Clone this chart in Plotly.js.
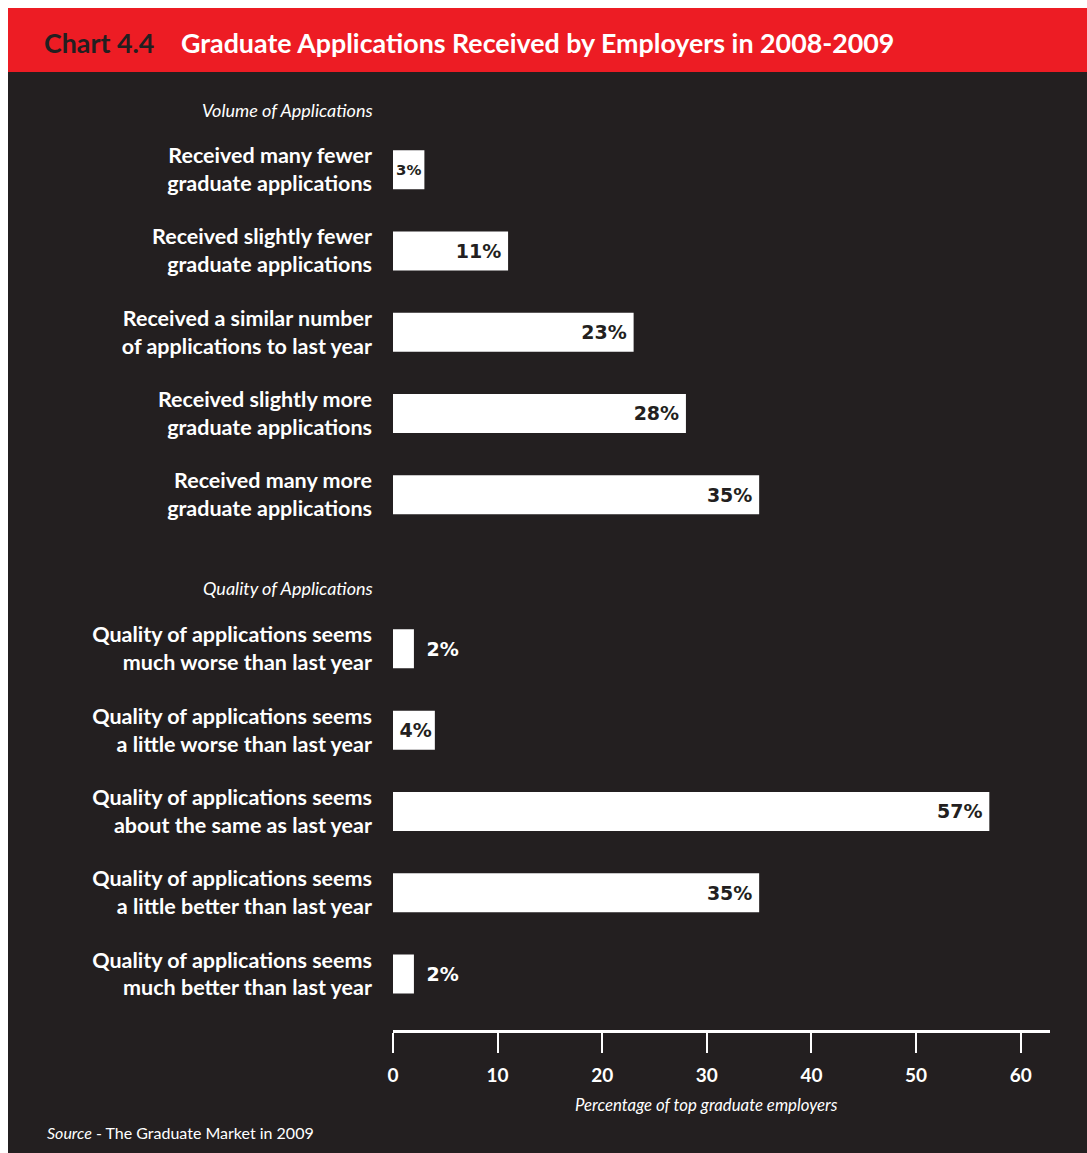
<!DOCTYPE html>
<html>
<head>
<meta charset="utf-8">
<script src="https://cdn.plot.ly/plotly-3.0.1.min.js"></script>
<style>
  html, body { margin: 0; padding: 0; background: #ffffff; }
  #chart {
    position: absolute; left: 8px; top: 8px; width: 1079px; height: 1145px;
    background: linear-gradient(to bottom, #ed1c24 0px, #ed1c24 64px, #231f20 64px, #231f20 100%);
  }
</style>
</head>
<body>
<div id="chart"></div>
<script>
// ---- Data ----
const volumeCategories = [
  "Received many fewer<br>graduate applications",
  "Received slightly fewer<br>graduate applications",
  "Received a similar number<br>of applications to last year",
  "Received slightly more<br>graduate applications",
  "Received many more<br>graduate applications"
];
const volumeValues = [3, 11, 23, 28, 35];

const qualityCategories = [
  "Quality of applications seems<br>much worse than last year",
  "Quality of applications seems<br>a little worse than last year",
  "Quality of applications seems<br>about the same as last year",
  "Quality of applications seems<br>a little better than last year",
  "Quality of applications seems<br>much better than last year"
];
const qualityValues = [2, 4, 57, 35, 2];

const xTickValues = [0, 10, 20, 30, 40, 50, 60];

const titleLabel = "Chart 4.4";
const titleText = "Graduate Applications Received by Employers in 2008-2009";
const volumeHeader = "Volume of Applications";
const qualityHeader = "Quality of Applications";
const xAxisTitle = "Percentage of top graduate employers";
const sourceText = "<i>Source</i> - The Graduate Market in 2009";

// ---- Styling ----
const DARK = "#231f20";
const WHITE = "#ffffff";
const LABEL_FONT = "Lato, 'Open Sans', sans-serif";
const NUM_FONT = "'DejaVu Sans', Verdana, sans-serif";

function barTrace(cats, vals, yaxis) {
  const small = vals.map(v => v < 3);
  return {
    type: "bar",
    orientation: "h",
    x: vals,
    y: cats,
    yaxis: yaxis,
    xaxis: "x",
    marker: { color: WHITE, line: { width: 0 } },
    text: vals.map((v, i) => (small[i] ? "\u2002" : "") + v + "%" + (v >= 10 ? "\u2009" : "")),
    textposition: vals.map((v, i) => small[i] ? "outside" : "inside"),
    textangle: 0,
    insidetextanchor: "end",
    insidetextfont: { family: NUM_FONT, size: 19, color: DARK, weight: "bold" },
    outsidetextfont: { family: NUM_FONT, size: 19, color: WHITE, weight: "bold" },
    textfont: { family: NUM_FONT, size: 19, weight: "bold" },
    cliponaxis: false,
    hoverinfo: "skip",
    showlegend: false
  };
}

const data = [
  barTrace(volumeCategories, volumeValues, "y"),
  barTrace(qualityCategories, qualityValues, "y2")
];

const yCommon = {
  type: "category",
  autorange: "reversed",
  showline: false,
  showgrid: false,
  zeroline: false,
  ticks: "",
  ticklabelstandoff: 20,
  tickfont: { family: LABEL_FONT, size: 21.5, color: WHITE, weight: "bold" },
  fixedrange: true
};

const layout = {
  width: 1079,
  height: 1145,
  paper_bgcolor: "rgba(0,0,0,0)",
  plot_bgcolor: "rgba(0,0,0,0)",
  margin: { l: 385, r: 37, t: 121.4, b: 122 },
  bargap: 0.52,
  title: {
    text: '<span style="color:' + DARK + '">' + titleLabel + '</span>\u2003 ' + titleText,
    font: { family: LABEL_FONT, size: 26.8, color: WHITE, weight: "bold" },
    x: 36 / 1079, xanchor: "left", xref: "container",
    y: 1 - 36 / 1145, yanchor: "middle", yref: "container"
  },
  xaxis: {
    range: [0, 62.8],
    anchor: "free",
    position: 0,
    tickvals: xTickValues,
    ticktext: xTickValues.map(String),
    showline: true,
    linecolor: WHITE,
    linewidth: 3,
    ticks: "outside",
    ticklen: 20,
    tickwidth: 2,
    tickcolor: WHITE,
    ticklabelstandoff: 6,
    tickfont: { family: LABEL_FONT, size: 19, color: WHITE, weight: "bold" },
    showgrid: false,
    zeroline: false,
    fixedrange: true
  },
  yaxis: Object.assign({}, yCommon, { domain: [0.5495, 1] }),
  yaxis2: Object.assign({}, yCommon, { domain: [0.0182, 0.4687], anchor: "x" }),
  annotations: [
    {
      text: "<i>" + volumeHeader + "</i>",
      xref: "paper", yref: "paper", x: 0, y: 1, xanchor: "right", yanchor: "middle",
      xshift: -18, yshift: 19.5,
      showarrow: false,
      font: { family: LABEL_FONT, size: 18, color: WHITE }
    },
    {
      text: "<i>" + qualityHeader + "</i>",
      xref: "paper", yref: "paper", x: 0, y: 0.4687, xanchor: "right", yanchor: "middle",
      xshift: -18, yshift: 20,
      showarrow: false,
      font: { family: LABEL_FONT, size: 18, color: WHITE }
    },
    {
      text: "<i>" + xAxisTitle + "</i>",
      xref: "x", yref: "paper", x: 30, y: 0, xanchor: "center", yanchor: "middle",
      yshift: -73,
      showarrow: false,
      font: { family: LABEL_FONT, size: 16.8, color: WHITE }
    },
    {
      text: sourceText,
      xref: "paper", yref: "paper", x: 0, y: 0, xanchor: "left", yanchor: "middle",
      xshift: -348, yshift: -101,
      showarrow: false,
      font: { family: LABEL_FONT, size: 16, color: WHITE }
    }
  ]
};

Plotly.newPlot("chart", data, layout, { displayModeBar: false, staticPlot: true });
</script>
</body>
</html>
